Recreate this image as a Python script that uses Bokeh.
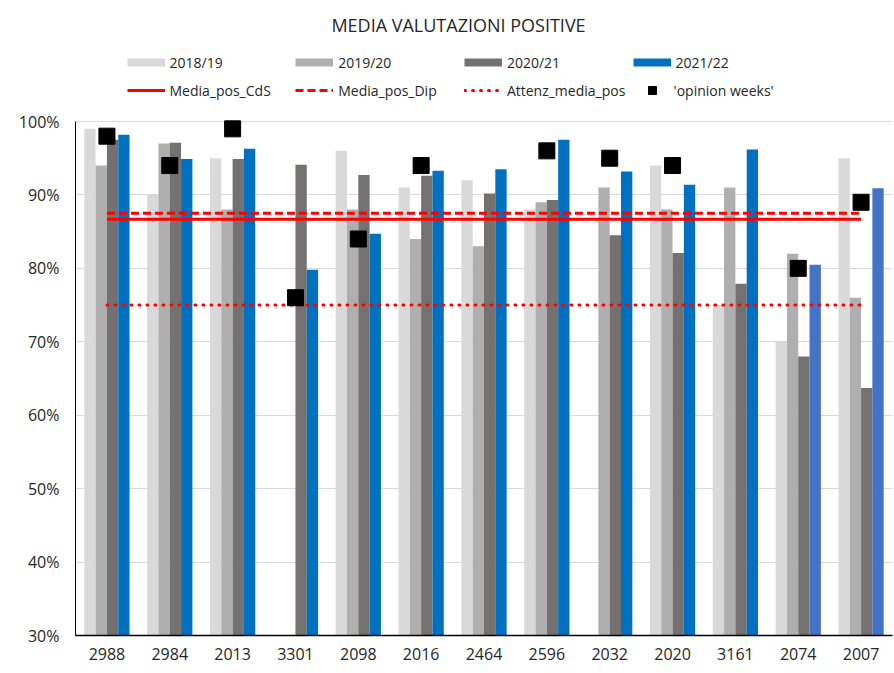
from bokeh.plotting import figure
from bokeh.models import (ColumnDataSource, FactorRange, Range1d, FixedTicker,
                          PrintfTickFormatter, Legend, LegendItem, Label)
from bokeh.core.properties import value
from bokeh.transform import dodge
from bokeh.embed import file_html
from bokeh.resources import INLINE

NaN = float("nan")

# ---- data ----
categories = ["2988", "2984", "2013", "3301", "2098", "2016", "2464",
              "2596", "2032", "2020", "3161", "2074", "2007"]
series_names = ["2018/19", "2019/20", "2020/21", "2021/22"]
v_2018_19 = [99.0, 90.0, 95.0, NaN, 96.0, 91.0, 92.0, 88.0, NaN, 94.0, 75.0, 70.0, 95.0]
v_2019_20 = [94.0, 97.0, 88.0, NaN, 88.0, 84.0, 83.0, 89.0, 91.0, 88.0, 91.0, 82.0, 76.0]
v_2020_21 = [97.5, 97.1, 94.9, 94.1, 92.7, 92.6, 90.2, 89.3, 84.5, 82.1, 77.9, 68.0, 63.7]
v_2021_22 = [98.2, 94.9, 96.3, 79.8, 84.7, 93.3, 93.5, 97.5, 93.2, 91.4, 96.2, 80.5, 90.9]
opinion_weeks = [98.0, 94.0, 99.0, 76.0, 84.0, 94.0, NaN, 96.0, 95.0, 94.0, NaN, 80.0, 89.0]
media_pos_cds = [86.7, 86.7, 86.7, 86.7, 86.7, 86.7, 86.7, 86.7, 86.7, 86.7, 86.7, 86.7, 86.7]
media_pos_dip = [87.5, 87.5, 87.5, 87.5, 87.5, 87.5, 87.5, 87.5, 87.5, 87.5, 87.5, 87.5, 87.5]
attenz_media_pos = [75.0, 75.0, 75.0, 75.0, 75.0, 75.0, 75.0, 75.0, 75.0, 75.0, 75.0, 75.0, 75.0]
y_ticks = [30, 40, 50, 60, 70, 80, 90, 100]
y_min, y_max = 30, 100

# ---- layout (pixels) ----
W, H = 894, 673
FRAME_L, FRAME_R, FRAME_B = 75, 892, 635
AXIS_TOP = 121                     # where 100% sits; space above holds title + legend
frame_h = FRAME_B                  # frame runs from the top of the canvas
y_top = y_min + (y_max - y_min) * frame_h / (FRAME_B - AXIS_TOP)

# ---- styles ----
FONT = "Open Sans"
TXT = "#262626"
colors = ["#D9D9D9", "#AFAFAF", "#767171", "#0070C0"]
alt_blue = "#4472C4"
alt_blue_cats = ["2074", "2007"]
RED = "#FF0000"

bar4_colors = [alt_blue if c in alt_blue_cats else colors[3] for c in categories]

src = ColumnDataSource(dict(cat=categories, a=v_2018_19, b=v_2019_20, c=v_2020_21,
                            d=v_2021_22, ow=opinion_weeks, bar4_color=bar4_colors,
                            l1=media_pos_cds, l2=media_pos_dip, l3=attenz_media_pos))

p = figure(width=W, height=H,
           x_range=FactorRange(*categories, range_padding=0),
           y_range=Range1d(y_min, y_top),
           output_backend="svg", toolbar_location=None,
           min_border_left=FRAME_L, min_border_right=W - FRAME_R,
           min_border_top=0, min_border_bottom=H - FRAME_B)
p.outline_line_color = None
p.background_fill_color = "white"
p.border_fill_color = "white"

bw = 0.18
offsets = [-1.5 * bw, -0.5 * bw, 0.5 * bw, 1.5 * bw]
for col, off, colr in zip(["a", "b", "c"], offsets[:3], colors[:3]):
    p.vbar(x=dodge("cat", off, range=p.x_range), top=col, bottom=y_min, width=bw,
           source=src, fill_color=colr, line_color=None)
p.vbar(x=dodge("cat", offsets[3], range=p.x_range), top="d", bottom=y_min, width=bw,
       source=src, fill_color="bar4_color", line_color=None)

r_cds = p.line(x="cat", y="l1", source=src, line_color=RED, line_width=3)
r_dip = p.line(x="cat", y="l2", source=src, line_color=RED, line_width=3, line_dash="8 4")
r_att = p.line(x="cat", y="l3", source=src, line_color=RED, line_width=3,
               line_dash="1 7", line_cap="round")
r_ow = p.scatter(x="cat", y="ow", source=src, marker="square", size=16,
                 fill_color="black", line_color="black")

# ---- axes / grid ----
p.xgrid.grid_line_color = None
p.ygrid.grid_line_color = "#D9D9D9"
p.ygrid.grid_line_width = 1
p.yaxis.ticker = FixedTicker(ticks=y_ticks)
p.yaxis.formatter = PrintfTickFormatter(format="%d%%")
p.yaxis.bounds = (y_min, y_max)
for ax in (p.xaxis, p.yaxis):
    ax.major_tick_line_color = None
    ax.minor_tick_line_color = None
    ax.major_tick_out = 0
    ax.major_tick_in = 0
    ax.axis_line_color = "black"
    ax.major_label_text_font = FONT
    ax.major_label_text_font_size = "16px"
    ax.major_label_text_color = TXT
p.yaxis.axis_line_width = 1
p.xaxis.axis_line_width = 1.5
p.yaxis.major_label_standoff = 16
p.xaxis.major_label_standoff = 12

# ---- title (screen units measured from the frame's bottom-left) ----
p.add_layout(Label(x=458 - FRAME_L, y=FRAME_B - 24, x_units="screen", y_units="screen",
                   text="MEDIA VALUTAZIONI POSITIVE", text_align="center",
                   text_baseline="middle", text_font=FONT, text_font_size="18px",
                   text_color=TXT))

# ---- legend (thick-line proxies, with no visible points, stand in for the bar series) ----
proxy_src = ColumnDataSource(dict(x=[categories[0]], y=[NaN]))
proxies = [p.line(x="x", y="y", source=proxy_src, line_color=c, line_width=8,
                  line_cap="butt") for c in colors]

GH = 20
col_x = [126.5 - FRAME_L, 295.2 - FRAME_L, 463.9 - FRAME_L, 632.6 - FRAME_L]
row_y = [FRAME_B - 62 - GH / 2, FRAME_B - 90 - GH / 2]


def add_leg(renderer, label, x, y, standoff=5):
    leg = Legend(items=[LegendItem(label=value(label), renderers=[renderer])],
                 location=(x, y), orientation="vertical",
                 glyph_width=38, glyph_height=GH, label_height=GH,
                 label_standoff=standoff, padding=0, margin=0, spacing=0,
                 border_line_color=None, background_fill_alpha=0,
                 label_text_font=FONT, label_text_font_size="14px",
                 label_text_color=TXT)
    p.add_layout(leg)


for i in range(4):
    add_leg(proxies[i], series_names[i], col_x[i], row_y[0])
add_leg(r_cds, "Media_pos_CdS", col_x[0], row_y[1])
add_leg(r_dip, "Media_pos_Dip", col_x[1], row_y[1])
add_leg(r_att, "Attenz_media_pos", col_x[2], row_y[1])
add_leg(r_ow, "'opinion weeks'", col_x[3], row_y[1], standoff=3)

open("out.html", "w").write(file_html(p, INLINE))
